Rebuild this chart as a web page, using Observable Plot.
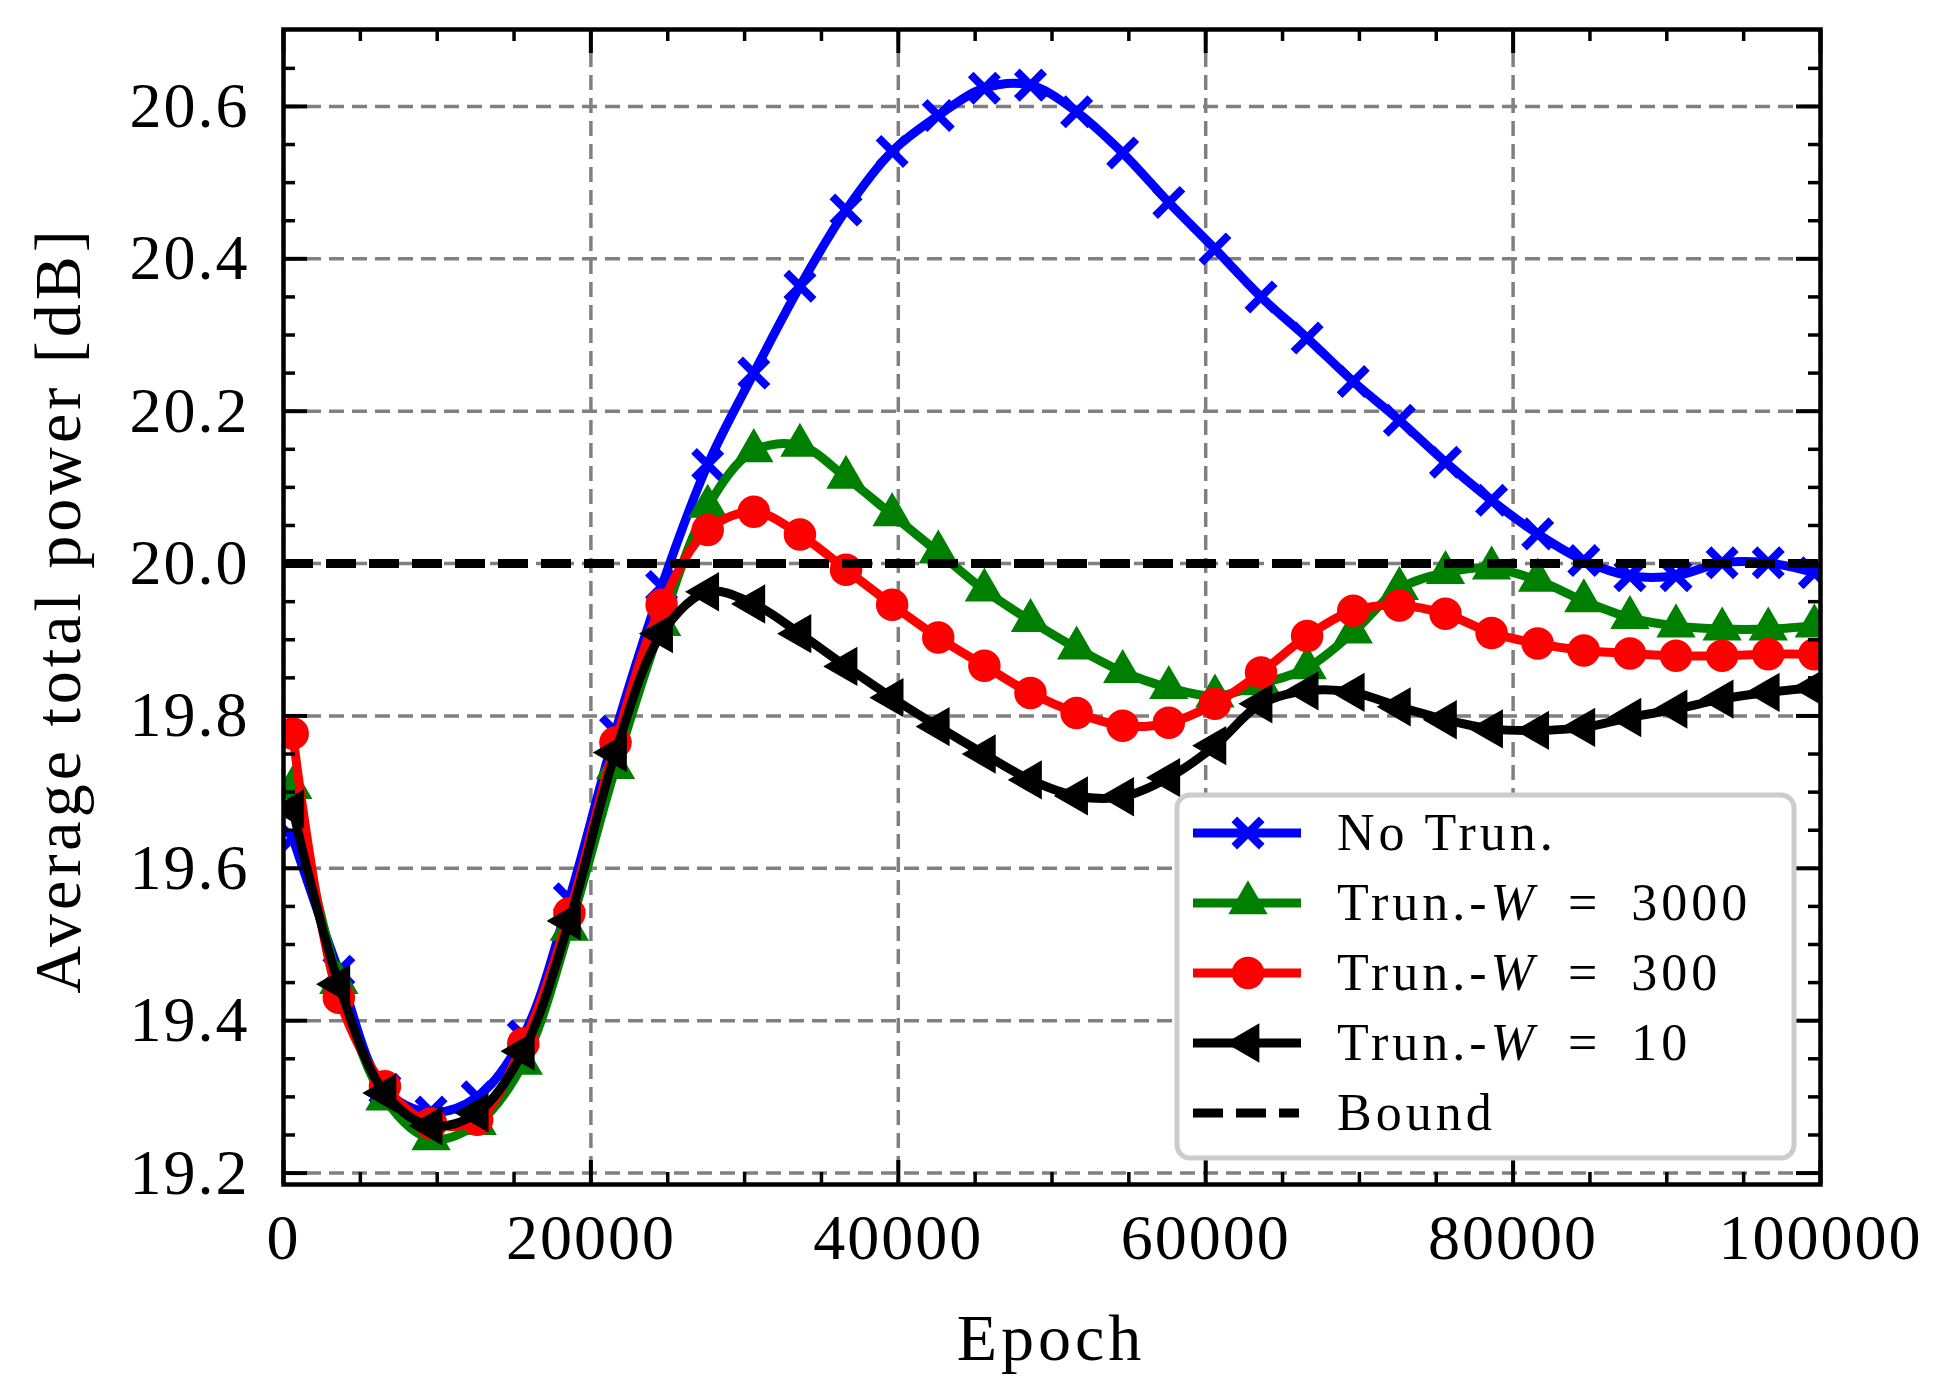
<!DOCTYPE html>
<html>
<head>
<meta charset="utf-8">
<script src="https://cdn.jsdelivr.net/npm/d3@7"></script>
<script src="https://cdn.jsdelivr.net/npm/@observablehq/plot@0.6"></script>
<style>
  html, body { margin: 0; padding: 0; background: #ffffff; }
  svg { display: block; }
</style>
</head>
<body>
<div id="chart"></div>
<script>
// ---------------- data ----------------
const epochs = [600, 3600, 6600, 9600, 12600, 15600, 18600, 21600, 24600, 27600,
  30600, 33600, 36600, 39600, 42600, 45600, 48600, 51600, 54600, 57600,
  60600, 63600, 66600, 69600, 72600, 75600, 78600, 81600, 84600, 87600,
  90600, 93600, 96600, 99600];

const noTrun = [19.64, 19.465, 19.31, 19.28, 19.30, 19.38, 19.56, 19.78, 19.97, 20.13,
  20.25, 20.364, 20.464, 20.541, 20.588, 20.624, 20.628, 20.593, 20.539, 20.474,
  20.413, 20.35, 20.296, 20.239, 20.188, 20.133, 20.083, 20.039, 20.004, 19.984,
  19.984, 20.001, 20.001, 19.988];

const trun3000 = [19.706, 19.45, 19.297, 19.245, 19.265, 19.344, 19.52, 19.732, 19.92, 20.075,
  20.148, 20.155, 20.113, 20.064, 20.015, 19.965, 19.925, 19.889, 19.858, 19.837,
  19.826, 19.842, 19.863, 19.91, 19.967, 19.988, 19.994, 19.978, 19.951, 19.929,
  19.918, 19.914, 19.914, 19.918];

const trun300 = [19.777, 19.43, 19.314, 19.265, 19.27, 19.37, 19.541, 19.765, 19.946, 20.044,
  20.068, 20.038, 19.992, 19.946, 19.903, 19.866, 19.83, 19.804, 19.787, 19.791,
  19.816, 19.857, 19.905, 19.938, 19.945, 19.934, 19.909, 19.895, 19.886, 19.882,
  19.879, 19.879, 19.881, 19.881];

const trun10 = [19.678, 19.448, 19.305, 19.262, 19.279, 19.36, 19.531, 19.752, 19.908, 19.963,
  19.947, 19.908, 19.865, 19.824, 19.786, 19.75, 19.716, 19.695, 19.694, 19.719,
  19.761, 19.816, 19.833, 19.831, 19.812, 19.795, 19.783, 19.781, 19.785, 19.798,
  19.809, 19.822, 19.831, 19.837];

const boundValue = [20.0];

const xMajorTicks = [0, 20000, 40000, 60000, 80000, 100000];
const xMinorTicks = [5000, 10000, 15000, 25000, 30000, 35000, 45000, 50000, 55000,
  65000, 70000, 75000, 85000, 90000, 95000];
const yMajorTicks = [19.2, 19.4, 19.6, 19.8, 20.0, 20.2, 20.4, 20.6];
const yMinorTicks = [19.25, 19.3, 19.35, 19.45, 19.5, 19.55, 19.65, 19.7, 19.75,
  19.85, 19.9, 19.95, 20.05, 20.1, 20.15, 20.25, 20.3, 20.35, 20.45, 20.5, 20.55, 20.65];

const seriesLabels = ["No Trun.", "Trun.-", "Trun.-", "Trun.-", "Bound"];
const seriesW = [null, "3000", "300", "10", null];
const xLabel = "Epoch";
const yLabel = "Average total power [dB]";

// ---------------- layout ----------------
const W = 1954, H = 1395;
const mL = 283, mR = 134, mT = 29, mB = 211;
const ph = H - mT - mB, pw = W - mL - mR;
const FONT = "'Liberation Serif', 'Times New Roman', serif";

const rows = ys => epochs.map((e, i) => ({x: e, y: ys[i]}));
const LW = 9;

const series = [
  {data: rows(noTrun), color: "#0000ff", symbol: "times", r: 12.5, fill: "none", sw: 8, rotate: 0},
  {data: rows(trun3000), color: "#008000", symbol: "triangle", r: 13, fill: "#008000", sw: 2.5, rotate: 0},
  {data: rows(trun300), color: "#ff0000", symbol: "circle", r: 15, fill: "#ff0000", sw: 2.5, rotate: 0},
  {data: rows(trun10), color: "#000000", symbol: "triangle", r: 13, fill: "#000000", sw: 2.5, rotate: -90}
];

const gridStyle = {stroke: "#808080", strokeWidth: 3.5, strokeDasharray: "15,8"};

const marks = [
  Plot.ruleX(xMajorTicks, {x: d => d, ...gridStyle}),
  Plot.ruleY(yMajorTicks, {y: d => d, ...gridStyle})
];
for (const s of series) {
  marks.push(Plot.line(s.data, {x: "x", y: "y", stroke: s.color, strokeWidth: LW, curve: "catmull-rom", clip: true}));
  marks.push(Plot.dot(s.data, {x: "x", y: "y", symbol: s.symbol, r: s.r, fill: s.fill, stroke: s.color,
    strokeWidth: s.sw, rotate: s.rotate, clip: true}));
}
marks.push(Plot.ruleY(boundValue, {y: d => d, stroke: "#000000", strokeWidth: LW, strokeDasharray: "30,13"}));
// inward ticks on all four sides
marks.push(
  Plot.tickX(xMajorTicks, {x: d => d, stroke: "#000", strokeWidth: 4, insetTop: ph - 24}),
  Plot.tickX(xMajorTicks, {x: d => d, stroke: "#000", strokeWidth: 4, insetBottom: ph - 24}),
  Plot.tickX(xMinorTicks, {x: d => d, stroke: "#000", strokeWidth: 3.5, insetTop: ph - 12}),
  Plot.tickX(xMinorTicks, {x: d => d, stroke: "#000", strokeWidth: 3.5, insetBottom: ph - 12}),
  Plot.tickY(yMajorTicks, {y: d => d, stroke: "#000", strokeWidth: 4, insetRight: pw - 24}),
  Plot.tickY(yMajorTicks, {y: d => d, stroke: "#000", strokeWidth: 4, insetLeft: pw - 24}),
  Plot.tickY(yMinorTicks, {y: d => d, stroke: "#000", strokeWidth: 3.5, insetRight: pw - 12}),
  Plot.tickY(yMinorTicks, {y: d => d, stroke: "#000", strokeWidth: 3.5, insetLeft: pw - 12}),
  Plot.frame({stroke: "#000", strokeWidth: 4.5}),
  Plot.text(xMajorTicks, {x: d => d, text: d => String(d), frameAnchor: "bottom", dy: 54,
    lineAnchor: "middle", fontSize: 64, fontFamily: FONT, fill: "#000"}),
  Plot.text(yMajorTicks, {y: d => d, text: d => d.toFixed(1), frameAnchor: "left", dx: -34,
    textAnchor: "end", lineAnchor: "middle", fontSize: 64, fontFamily: FONT, fill: "#000"})
);

const plot = Plot.plot({
  width: W, height: H,
  marginLeft: mL, marginRight: mR, marginTop: mT, marginBottom: mB,
  style: {background: "#ffffff", fontFamily: FONT, letterSpacing: "2px", overflow: "visible"},
  x: {type: "linear", domain: [0, 100000], axis: null},
  y: {type: "linear", domain: [19.185, 20.701], axis: null},
  marks
});
document.getElementById("chart").appendChild(plot);

// ---------------- axis labels ----------------
const svg = d3.select(plot);
svg.append("text")
  .attr("transform", "translate(59,610) rotate(-90)")
  .attr("text-anchor", "middle").attr("dy", "0.32em")
  .style("font-family", FONT).style("font-size", "66px").style("letter-spacing", "4px")
  .attr("fill", "#000").text(yLabel);
svg.append("text")
  .attr("x", 1051).attr("y", 1360)
  .attr("text-anchor", "middle")
  .style("font-family", FONT).style("font-size", "66px").style("letter-spacing", "4px")
  .attr("fill", "#000").text(xLabel);

// ---------------- legend ----------------
const lg = svg.append("g");
lg.append("rect").attr("x", 1177).attr("y", 795).attr("width", 617).attr("height", 363)
  .attr("rx", 13).attr("fill", "#ffffff").attr("stroke", "#cccccc").attr("stroke-width", 5);
const rowY = [833, 903, 973, 1043, 1113];
const symMap = {times: d3.symbolTimes, triangle: d3.symbolTriangle};
series.forEach((s, i) => {
  const y = rowY[i];
  lg.append("line").attr("x1", 1193).attr("x2", 1301).attr("y1", y).attr("y2", y)
    .attr("stroke", s.color).attr("stroke-width", LW);
  if (s.symbol === "circle") {
    lg.append("circle").attr("cx", 1248).attr("cy", y).attr("r", s.r)
      .attr("fill", s.fill).attr("stroke", s.color).attr("stroke-width", s.sw);
  } else {
    lg.append("path").attr("d", d3.symbol(symMap[s.symbol], s.r * s.r * Math.PI)())
      .attr("transform", `translate(1248,${y}) rotate(${s.rotate})`)
      .attr("fill", s.fill).attr("stroke", s.color).attr("stroke-width", s.sw);
  }
});
lg.append("line").attr("x1", 1193).attr("x2", 1299).attr("y1", rowY[4]).attr("y2", rowY[4])
  .attr("stroke", "#000").attr("stroke-width", LW).attr("stroke-dasharray", "30,13");
seriesLabels.forEach((lab, i) => {
  const t = lg.append("text").attr("x", 1337).attr("y", rowY[i] + 17)
    .attr("text-anchor", "start")
    .style("font-family", FONT).style("font-size", "52px").style("letter-spacing", "4px")
    .attr("fill", "#000");
  if (seriesW[i] === null) {
    t.text(lab);
  } else {
    t.append("tspan").text(lab);
    t.append("tspan").style("font-style", "italic").text("W");
    t.append("tspan").text("\u2002=\u2002" + seriesW[i]);
  }
});
</script>
</body>
</html>
